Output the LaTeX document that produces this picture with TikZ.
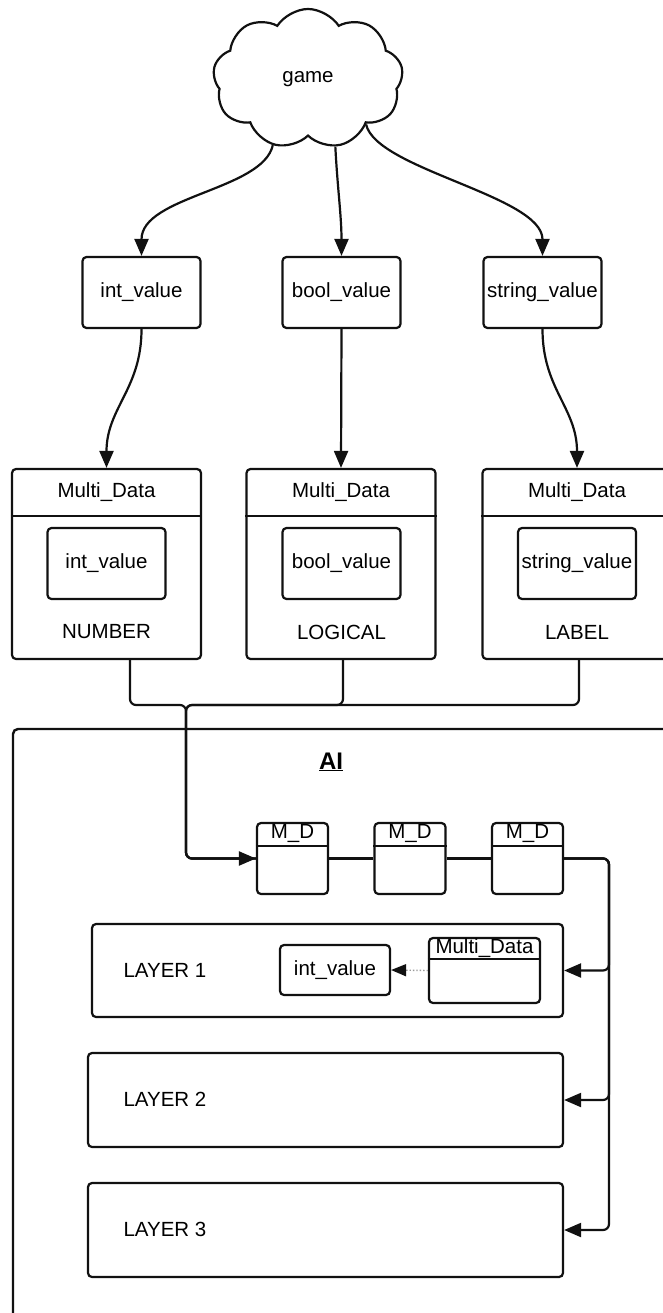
\documentclass[tikz,border=0pt]{standalone}
\usepackage{fontspec}
\setmainfont{Liberation Sans}
\usetikzlibrary{shapes.symbols, arrows.meta, positioning, calc}
\usepackage{xcolor}
\definecolor{LineBlack}{HTML}{111111}
\definecolor{BoxWhite}{HTML}{FFFFFF}
\definecolor{DotGray}{HTML}{9A9A9A}
\tikzset{
    % Box styles - small rounded corners
    cloudbox/.style={
        cloud,
        cloud puffs=9,
        cloud puff arc=115,
        aspect=1.35,
        draw=LineBlack,
        fill=BoxWhite,
        line width=2.2pt,
        minimum width=190pt,
        minimum height=140pt
    },
    valuebox/.style={
        rectangle,
        rounded corners=4pt,
        draw=LineBlack,
        fill=BoxWhite,
        line width=2.2pt,
        minimum width=118pt,
        minimum height=71pt,
        inner sep=0pt,
        align=center
    },
    databox/.style={
        rectangle,
        rounded corners=4pt,
        draw=LineBlack,
        fill=BoxWhite,
        line width=2.2pt,
        minimum width=189pt,
        minimum height=190pt,
        inner sep=0pt
    },
    mdbox/.style={
        rectangle,
        rounded corners=4pt,
        draw=LineBlack,
        fill=BoxWhite,
        line width=2.2pt,
        minimum width=71pt,
        minimum height=71pt,
        inner sep=0pt
    },
    layerbox/.style={
        rectangle,
        rounded corners=4pt,
        draw=LineBlack,
        fill=BoxWhite,
        line width=2.2pt,
        minimum width=475pt,
        minimum height=94pt,
        inner sep=0pt
    },
    aibox/.style={
        rectangle,
        rounded corners=5pt,
        draw=LineBlack,
        line width=2.4pt,
        minimum width=687pt,
        minimum height=621pt,
        inner sep=0pt
    },
    % Arrow styles
    arrow/.style={
        ->,
        >={Triangle[length=17pt, width=14pt]},
        line width=2.2pt,
        draw=LineBlack
    },
    line/.style={
        line width=2.2pt,
        draw=LineBlack
    },
    dottedarrow/.style={
        ->,
        >={Triangle[length=15pt, width=12pt, color=LineBlack]},
        line width=1.4pt,
        draw=DotGray,
        dotted
    }
}

\begin{document}
\begin{tikzpicture}[x=1pt, y=-1pt, font=\fontsize{20.5}{24}\selectfont]
    \clip (0,0) rectangle (663,1313);

    % top: the game and its three values
    \node[cloudbox] (game) at (308,79) {game};
    \node[valuebox] (intv) at (141.5,292.5) {int\_value};
    \node[valuebox] (boolv) at (341.5,292.5) {bool\_value};
    \node[valuebox] (strv) at (542.5,292.5) {string\_value};

    \draw[arrow] (game.242) .. controls +(-10,45) and +(0,-60) .. (intv.north);
    \draw[arrow] (game.292) .. controls +(2,40) and +(0,-40) .. (boolv.north);
    \draw[arrow] (game.322) .. controls +(10,45) and +(0,-60) .. (strv.north);

    % Multi_Data boxes
    \node[databox] (numbox) at (106.5,564) {};
    \node[databox] (logbox) at (341,564) {};
    \node[databox] (lblbox) at (577,564) {};
    \foreach \b in {numbox, logbox, lblbox} {
        \draw[line] ([yshift=-48pt]\b.north west) -- ([yshift=-48pt]\b.north east);
        \node (\b-head) at ([yshift=-24pt]\b.north) {Multi\_Data};
    }
    \node[valuebox] (numval) at (106.5,563.5) {int\_value};
    \node[valuebox] (logval) at (341.5,563.5) {bool\_value};
    \node[valuebox] (lblval) at (577,563.5) {string\_value};
    \node (numtxt) at (106.5,632) {NUMBER};
    \node (logtxt) at (341.5,632) {LOGICAL};
    \node (lbltxt) at (577,632) {LABEL};

    \draw[arrow] (intv.south) .. controls +(0,60) and +(0,-60) .. (numbox.north);
    \draw[arrow] (boolv.south) -- (logbox.north);
    \draw[arrow] (strv.south) .. controls +(0,60) and +(0,-60) .. (lblbox.north);

    % AI frame
    \node[aibox] (ai) at (356.5,1039.5) {};
    \node[font=\fontsize{24}{28}\selectfont\bfseries] (aititle) at (331,762) {\underline{AI}};

    \node[mdbox] (mdA) at (292.5,858.5) {};
    \node[mdbox] (mdB) at (410,858.5) {};
    \node[mdbox] (mdC) at (527.5,858.5) {};
    \foreach \b in {mdA, mdB, mdC} {
        \draw[line] ([yshift=-24pt]\b.north west) -- ([yshift=-24pt]\b.north east);
        \node (\b-head) at ([yshift=-12pt]\b.north) {M\_D};
    }
    \draw[line] (mdA.east) -- (mdB.west);
    \draw[line] (mdB.east) -- (mdC.west);

    % bus from the three Multi_Data boxes
    \coordinate (merge) at (186,705);
    \draw[line, rounded corners=6pt] ([xshift=2pt]lblbox.south) |- (merge) |- (mdA.west);
    \draw[line, rounded corners=6pt] ([xshift=2pt]logbox.south) |- (merge) |- (mdA.west);
    \draw[arrow, rounded corners=6pt] ([xshift=23.5pt]numbox.south) |- (merge) |- (mdA.west);

    % layers
    \node[layerbox, minimum width=471pt, minimum height=93pt] (lay1) at (327.5,970.5) {};
    \node[layerbox] (lay2) at (325.5,1100) {};
    \node[layerbox] (lay3) at (325.5,1230) {};
    \node[anchor=west] (lay1txt) at (120,970) {LAYER 1};
    \node[anchor=west] (lay2txt) at (120,1099) {LAYER 2};
    \node[anchor=west] (lay3txt) at (120,1229) {LAYER 3};

    \node[valuebox, minimum width=110pt, minimum height=50pt] (l1val) at (335,970) {int\_value};
    \node[mdbox, minimum width=111pt, minimum height=65pt] (l1data) at (484.5,970.5) {};
    \draw[line] ([yshift=-22pt]l1data.north west) -- ([yshift=-22pt]l1data.north east);
    \node (l1head) at ([yshift=-11pt]l1data.north) {Multi\_Data};
    \draw[dottedarrow] (l1data.west) -- (l1val.east);

    \coordinate (bus) at (609,858.5);
    \draw[arrow, rounded corners=6pt] (mdC.east) -- (bus) |- (lay1.east);
    \draw[arrow, rounded corners=6pt] (mdC.east) -- (bus) |- (lay2.east);
    \draw[arrow, rounded corners=6pt] (mdC.east) -- (bus) |- (lay3.east);
\end{tikzpicture}
\end{document}
